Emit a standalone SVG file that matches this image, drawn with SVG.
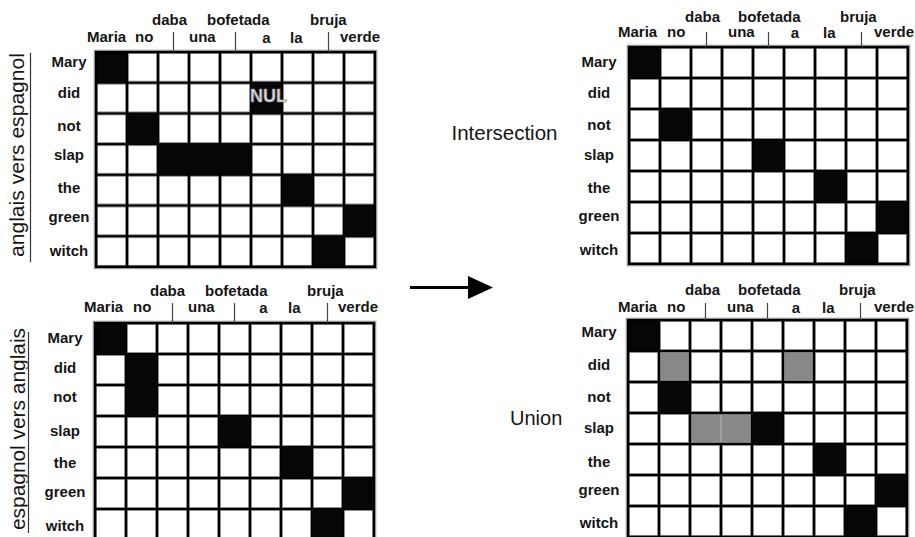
<svg xmlns="http://www.w3.org/2000/svg" width="915" height="537" viewBox="0 0 915 537">
<style>
.lbl{font-family:"Liberation Sans",Arial,sans-serif;font-weight:bold;font-size:15px;fill:#151515}
.rl{text-anchor:middle}
.mid{text-anchor:middle}
.tick{stroke:#444;stroke-width:1.2}
.blk{fill:#060606}
.gry{fill:#888;stroke:#777;stroke-width:0.8}
.border{fill:none;stroke:#000;stroke-width:2.4}
.halo{fill:none;stroke:#999;stroke-width:1}
.side{font-family:"Liberation Sans",Arial,sans-serif;font-size:20px;fill:#151515}
.big{font-family:"Liberation Sans",Arial,sans-serif;font-size:20.5px;fill:#151515}
.uline{stroke:#333;stroke-width:1.2}
</style>
<defs>
<pattern id="p31" width="31" height="31" patternUnits="userSpaceOnUse">
<rect width="31" height="31" fill="#000"/>
<rect x="1.6" y="1.6" width="27.8" height="27.8" fill="#fff" stroke="#999" stroke-width="0.8"/>
</pattern>
<pattern id="p30" width="31" height="30.7" patternUnits="userSpaceOnUse">
<rect width="31" height="30.7" fill="#000"/>
<rect x="1.6" y="1.6" width="27.8" height="27.5" fill="#fff" stroke="#999" stroke-width="0.8"/>
</pattern>
<clipPath id="clipBL" clipPathUnits="userSpaceOnUse"><rect x="0" y="300" width="27.6" height="237"/></clipPath>
</defs>

<g id="side-labels">
<text class="side" transform="translate(24,257) rotate(-90)" textLength="204" lengthAdjust="spacingAndGlyphs">anglais vers espagnol</text>
<line class="uline" x1="30.5" y1="53" x2="30.5" y2="262"/>
<g clip-path="url(#clipBL)">
<text class="side" transform="translate(24.5,530) rotate(-90)" textLength="202" lengthAdjust="spacingAndGlyphs">espagnol vers anglais</text>
</g>
<line class="uline" x1="28.5" y1="332" x2="28.5" y2="533"/>
</g>

<g id="grid-top-left">
<g transform="translate(96,52)">
<rect class="halo" x="-1.8" y="-1.8" width="282.6" height="218.5"/>
<rect width="279" height="214.9" fill="url(#p30)"/>
<rect class="blk" x="0" y="0" width="31" height="30.7"/>
<rect class="blk" x="155" y="30.7" width="31" height="30.7"/>
<rect class="blk" x="31" y="61.4" width="31" height="30.7"/>
<rect class="blk" x="62" y="92.1" width="93" height="30.7"/>
<rect class="blk" x="186" y="122.8" width="31" height="30.7"/>
<rect class="blk" x="248" y="153.5" width="31" height="30.7"/>
<rect class="blk" x="217" y="184.2" width="31" height="30.7"/>
<rect class="border" width="279" height="214.9"/>
</g>
<text x="250" y="101.5" style="font-family:'Liberation Sans',Arial,sans-serif;font-weight:bold;font-size:18px;fill:#dcdcdc;stroke:#8a8a8a;stroke-width:0.7">NUL</text>
<line class="tick" x1="173.5" y1="32" x2="173.5" y2="52"/>
<line class="tick" x1="235.5" y1="32" x2="235.5" y2="52"/>
<line class="tick" x1="328.5" y1="32" x2="328.5" y2="52"/>
<text class="lbl" x="87" y="41.5">Maria</text>
<text class="lbl" x="135" y="41.5">no</text>
<text class="lbl" x="189" y="41.5">una</text>
<text class="lbl mid" x="266.5" y="43">a</text>
<text class="lbl" x="290" y="43">la</text>
<text class="lbl" x="340" y="41.5">verde</text>
<text class="lbl" x="152" y="25">daba</text>
<text class="lbl" x="207" y="25">bofetada</text>
<text class="lbl" x="310" y="25">bruja</text>
<text class="lbl rl" x="69" y="67">Mary</text>
<text class="lbl rl" x="69" y="98">did</text>
<text class="lbl rl" x="69" y="131">not</text>
<text class="lbl rl" x="69" y="160">slap</text>
<text class="lbl rl" x="69" y="193">the</text>
<text class="lbl rl" x="69" y="222">green</text>
<text class="lbl rl" x="69" y="256">witch</text>
</g>

<g id="grid-bottom-left">
<g transform="translate(95,323)">
<rect class="halo" x="-1.8" y="-1.8" width="282.6" height="220.6"/>
<rect width="279" height="217" fill="url(#p31)"/>
<rect class="blk" x="0" y="0" width="31" height="31"/>
<rect class="blk" x="31" y="31" width="31" height="62"/>
<rect class="blk" x="124" y="93" width="31" height="31"/>
<rect class="blk" x="186" y="124" width="31" height="31"/>
<rect class="blk" x="248" y="155" width="31" height="31"/>
<rect class="blk" x="217" y="186" width="31" height="31"/>
<rect class="border" width="279" height="217"/>
</g>
<line class="tick" x1="172.5" y1="303" x2="172.5" y2="323"/>
<line class="tick" x1="234.5" y1="303" x2="234.5" y2="323"/>
<line class="tick" x1="327.5" y1="303" x2="327.5" y2="323"/>
<text class="lbl" x="84" y="311.5">Maria</text>
<text class="lbl" x="133" y="311.5">no</text>
<text class="lbl" x="188" y="311.5">una</text>
<text class="lbl mid" x="263.5" y="313">a</text>
<text class="lbl" x="288" y="313">la</text>
<text class="lbl" x="338" y="311.5">verde</text>
<text class="lbl" x="150" y="296">daba</text>
<text class="lbl" x="205" y="296">bofetada</text>
<text class="lbl" x="307" y="296">bruja</text>
<text class="lbl rl" x="65" y="343">Mary</text>
<text class="lbl rl" x="65" y="373">did</text>
<text class="lbl rl" x="65" y="401.5">not</text>
<text class="lbl rl" x="65" y="436">slap</text>
<text class="lbl rl" x="65" y="468">the</text>
<text class="lbl rl" x="65" y="497">green</text>
<text class="lbl rl" x="65" y="531">witch</text>
</g>

<g id="grid-intersection">
<text class="big" x="451.5" y="140">Intersection</text>
<g transform="translate(629,47)">
<rect class="halo" x="-1.8" y="-1.8" width="282.6" height="220.6"/>
<rect width="279" height="217" fill="url(#p31)"/>
<rect class="blk" x="0" y="0" width="31" height="31"/>
<rect class="blk" x="31" y="62" width="31" height="31"/>
<rect class="blk" x="124" y="93" width="31" height="31"/>
<rect class="blk" x="186" y="124" width="31" height="31"/>
<rect class="blk" x="248" y="155" width="31" height="31"/>
<rect class="blk" x="217" y="186" width="31" height="31"/>
<rect class="border" width="279" height="217"/>
</g>
<line class="tick" x1="706.5" y1="32" x2="706.5" y2="47"/>
<line class="tick" x1="768.5" y1="32" x2="768.5" y2="47"/>
<line class="tick" x1="861.5" y1="32" x2="861.5" y2="47"/>
<text class="lbl" x="618" y="36.5">Maria</text>
<text class="lbl" x="667" y="36.5">no</text>
<text class="lbl" x="728" y="36.5">una</text>
<text class="lbl mid" x="795" y="37.5">a</text>
<text class="lbl" x="823" y="37.5">la</text>
<text class="lbl" x="874" y="36.5">verde</text>
<text class="lbl" x="685" y="21.5">daba</text>
<text class="lbl" x="738" y="21.5">bofetada</text>
<text class="lbl" x="840" y="21.5">bruja</text>
<text class="lbl rl" x="599" y="66.5">Mary</text>
<text class="lbl rl" x="599" y="98">did</text>
<text class="lbl rl" x="599" y="130">not</text>
<text class="lbl rl" x="599" y="160">slap</text>
<text class="lbl rl" x="599" y="193">the</text>
<text class="lbl rl" x="599" y="221">green</text>
<text class="lbl rl" x="599" y="255">witch</text>
</g>

<g id="grid-union">
<text class="big" x="510" y="425" style="font-size:20px">Union</text>
<g transform="translate(628,320)">
<rect class="halo" x="-1.8" y="-1.8" width="282.6" height="220.6"/>
<rect width="279" height="217" fill="url(#p31)"/>
<rect class="blk" x="0" y="0" width="31" height="31"/>
<rect class="blk" x="31" y="62" width="31" height="31"/>
<rect class="blk" x="124" y="93" width="31" height="31"/>
<rect class="blk" x="186" y="124" width="31" height="31"/>
<rect class="blk" x="248" y="155" width="31" height="31"/>
<rect class="blk" x="217" y="186" width="31" height="31"/>
<rect class="gry" x="32.6" y="32.6" width="27.8" height="27.8"/>
<rect class="gry" x="156.6" y="32.6" width="27.8" height="27.8"/>
<rect class="gry" x="63.6" y="94.6" width="58.8" height="27.8"/>
<line x1="93" y1="94.6" x2="93" y2="122.4" stroke="#bbb" stroke-width="1"/>
<rect class="border" width="279" height="217"/>
</g>
<line class="tick" x1="705.5" y1="303" x2="705.5" y2="320"/>
<line class="tick" x1="767.5" y1="303" x2="767.5" y2="320"/>
<line class="tick" x1="860.5" y1="303" x2="860.5" y2="320"/>
<text class="lbl" x="618" y="311.5">Maria</text>
<text class="lbl" x="667" y="311.5">no</text>
<text class="lbl" x="727" y="311.5">una</text>
<text class="lbl mid" x="796" y="312.5">a</text>
<text class="lbl" x="822" y="312.5">la</text>
<text class="lbl" x="874" y="311.5">verde</text>
<text class="lbl" x="685" y="295">daba</text>
<text class="lbl" x="738" y="295">bofetada</text>
<text class="lbl" x="839" y="295">bruja</text>
<text class="lbl rl" x="599" y="336.5">Mary</text>
<text class="lbl rl" x="599" y="370">did</text>
<text class="lbl rl" x="599" y="401.5">not</text>
<text class="lbl rl" x="599" y="433">slap</text>
<text class="lbl rl" x="599" y="466.5">the</text>
<text class="lbl rl" x="599" y="495">green</text>
<text class="lbl rl" x="599" y="528">witch</text>
</g>

<g id="connectors">
<line x1="410" y1="287.5" x2="470" y2="287.5" stroke="#000" stroke-width="3"/>
<polygon points="468,276 493,287.5 468,299" fill="#000"/>
</g>
</svg>
